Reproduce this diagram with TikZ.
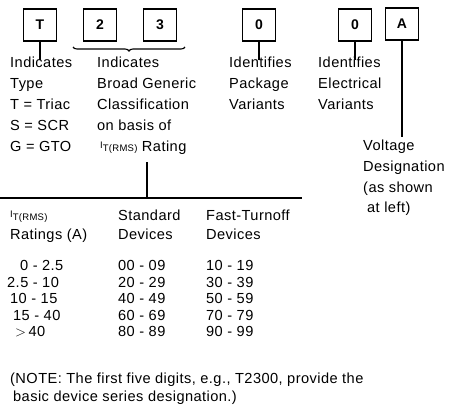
\documentclass[tikz,border=0pt]{standalone}
\usepackage{fontspec}
\setmainfont{Liberation Sans}[LetterSpace=3]
\usetikzlibrary{decorations.pathreplacing}
\newcommand\irmslabel{{\fontsize{9.5}{9.5}\selectfont\raisebox{3pt}{I}T(RMS)}}
\begin{document}
\begin{tikzpicture}[x=1pt,y=-1pt,
  digit/.style={draw,line width=1.3pt,minimum width=33pt,minimum height=32pt,inner sep=0pt,font=\bfseries\fontsize{14}{14}\selectfont},
  lbl/.style={anchor=base west,inner sep=0pt,font=\fontsize{14.6}{14.6}\selectfont},
  conn/.style={line width=1.1pt},
  rule/.style={line width=1.8pt}]
\useasboundingbox (0,0) rectangle (459,410);
% boxes
\node[digit] (bT) at (40,25) {T};
\node[digit] (b2) at (100,25) {2};
\node[digit] (b3) at (160,25) {3};
\node[digit] (b0a) at (259,25) {0};
\node[digit] (b0b) at (355,25) {0};
\node[digit] (bA) at (402,24) {A};
% connectors
\coordinate (cT) at (40,60);
\coordinate (c0a) at (259,60);
\coordinate (c0b) at (355,60);
\coordinate (cA) at (402,137);
\draw[conn] (bT.south) -- (cT);
\draw[conn] (b0a.south) -- (c0a);
\draw[conn] (b0b.south) -- (c0b);
\draw[conn] (bA.south) -- (cA);
\coordinate (brL) at (73,47);
\coordinate (brR) at (185,47);
\draw[conn,decorate,decoration={brace,mirror,amplitude=4pt}] (brL) -- (brR);
% column 1
\node[lbl] (t1a) at (10,67) {Indicates};
\node[lbl] (t1b) at (10,88) {Type};
\node[lbl] (t1c) at (10,109) {T = Triac};
\node[lbl] (t1d) at (10,130) {S = SCR};
\node[lbl] (t1e) at (10,151) {G = GTO};
% column 2
\node[lbl] (t2a) at (97,67) {Indicates};
\node[lbl] (t2b) at (97,88) {Broad Generic};
\node[lbl] (t2c) at (97,109) {Classification};
\node[lbl] (t2d) at (97,130) {on basis of};
\node[lbl] (t2e) at (100,151) {\irmslabel\ Rating};
% column 3
\node[lbl] (t3a) at (229,67) {Identifies};
\node[lbl] (t3b) at (229,88) {Package};
\node[lbl] (t3c) at (229,109) {Variants};
% column 4
\node[lbl] (t4a) at (318,67) {Identifies};
\node[lbl] (t4b) at (318,88) {Electrical};
\node[lbl] (t4c) at (318,109) {Variants};
% column 5
\node[lbl] (t5a) at (363,150) {Voltage};
\node[lbl] (t5b) at (363,171) {Designation};
\node[lbl] (t5c) at (363,192) {(as shown};
\node[lbl] (t5d) at (367,212) {at left)};
% rule
\coordinate (vTop) at (147,162);
\coordinate (vBot) at (147,198);
\coordinate (hL) at (0,198);
\coordinate (hR) at (302,198);
\draw[conn,line width=1.6pt] (vTop) -- (vBot);
\draw[rule] (hL) -- (hR);
% table header
\node[lbl] (h1a) at (10,220) {\irmslabel};
\node[lbl] (h1b) at (10,239) {Ratings (A)};
\node[lbl] (h2a) at (118,220) {Standard};
\node[lbl] (h2b) at (118,239) {Devices};
\node[lbl] (h3a) at (206,220) {Fast-Turnoff};
\node[lbl] (h3b) at (206,239) {Devices};
% table rows
\node[lbl] (r1a) at (20,270) {0 - 2.5};
\node[lbl] (r2a) at (7,287) {2.5 - 10};
\node[lbl] (r3a) at (10,303) {10 - 15};
\node[lbl] (r4a) at (13,320) {15 - 40};
\node[lbl] (r5a) at (15,336) {$>$\,40};
\node[lbl] (r1b) at (118,270) {00 - 09};
\node[lbl] (r2b) at (118,287) {20 - 29};
\node[lbl] (r3b) at (118,303) {40 - 49};
\node[lbl] (r4b) at (118,320) {60 - 69};
\node[lbl] (r5b) at (118,336) {80 - 89};
\node[lbl] (r1c) at (206,270) {10 - 19};
\node[lbl] (r2c) at (206,287) {30 - 39};
\node[lbl] (r3c) at (206,303) {50 - 59};
\node[lbl] (r4c) at (206,320) {70 - 79};
\node[lbl] (r5c) at (206,336) {90 - 99};
% note
\node[lbl] (n1) at (10,383) {(NOTE: The first five digits, e.g., T2300, provide the};
\node[lbl] (n2) at (13,401) {basic device series designation.)};
\end{tikzpicture}
\end{document}
